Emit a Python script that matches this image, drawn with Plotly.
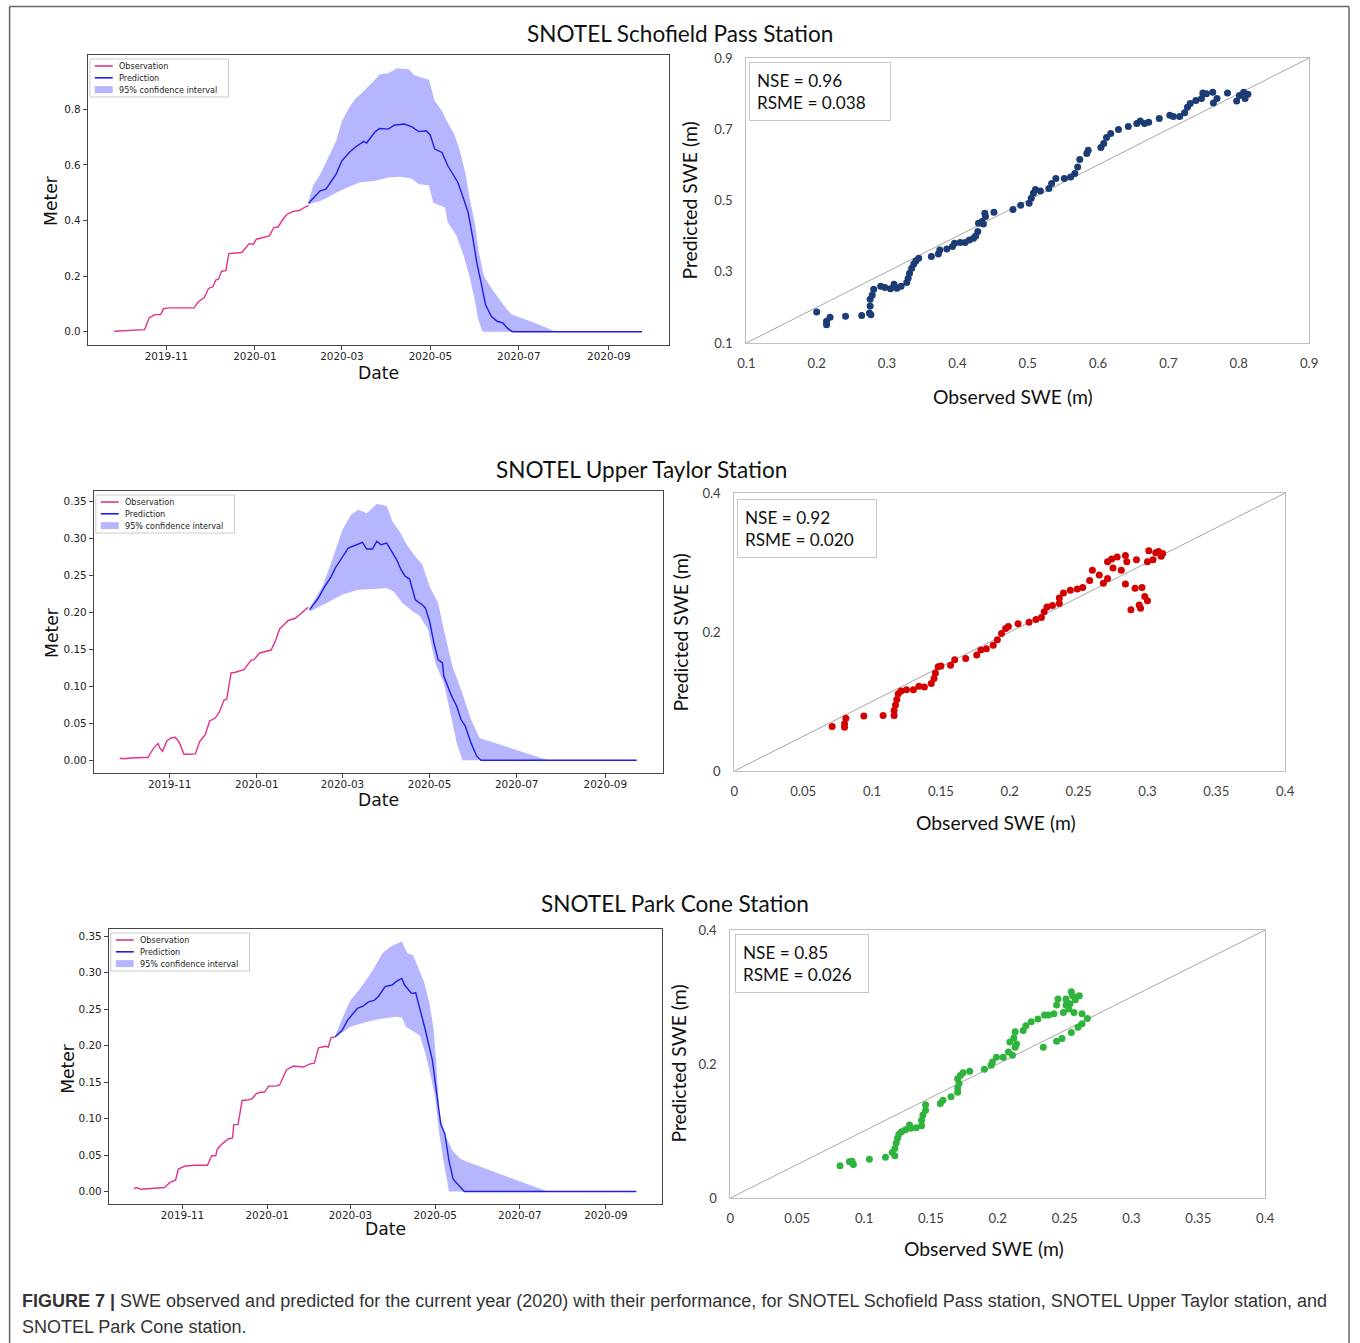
import pandas as pd
import plotly.graph_objects as go

W, H = 1360, 1343
# The captured picture shows the page inset by 8px and scaled to (W-16)x(H-16);
# positions below are given in picture pixels and mapped back to page/paper coords.
INSET = 8
SX = (W - 2 * INSET) / W
SY = (H - 2 * INSET) / H
FS = 1.0 / SX  # font/length compensation

# ---------------- Station 1: Schofield Pass ----------------
sch_obs_dates = ["2019-09-26", "2019-10-17", "2019-10-20", "2019-10-24", "2019-10-28", "2019-10-30", "2019-11-03",
                 "2019-11-20", "2019-11-23", "2019-11-27", "2019-11-30", "2019-12-03", "2019-12-05", "2019-12-07",
                 "2019-12-09", "2019-12-12", "2019-12-14", "2019-12-17", "2019-12-23", "2019-12-28", "2019-12-31",
                 "2020-01-02", "2020-01-11", "2020-01-14", "2020-01-17", "2020-01-20", "2020-01-23", "2020-01-27",
                 "2020-02-01", "2020-02-04", "2020-02-07"]
sch_obs_vals = [0.002, 0.008, 0.05, 0.062, 0.062, 0.083, 0.086, 0.086, 0.108, 0.122, 0.156, 0.162, 0.186, 0.19,
                0.218, 0.22, 0.281, 0.282, 0.285, 0.317, 0.315, 0.333, 0.345, 0.375, 0.377, 0.402, 0.422, 0.432,
                0.437, 0.447, 0.455]
sch_pred_dates = ["2020-02-07", "2020-02-11", "2020-02-15", "2020-02-19", "2020-02-23", "2020-02-26", "2020-03-01",
                  "2020-03-06", "2020-03-10", "2020-03-16", "2020-03-18", "2020-03-21", "2020-03-24", "2020-03-27",
                  "2020-04-02", "2020-04-06", "2020-04-13", "2020-04-18", "2020-04-23", "2020-04-28", "2020-05-01",
                  "2020-05-04", "2020-05-09", "2020-05-13", "2020-05-17", "2020-05-20", "2020-05-24", "2020-05-27",
                  "2020-05-30", "2020-06-02", "2020-06-05", "2020-06-08", "2020-06-12", "2020-06-16", "2020-06-20",
                  "2020-06-23", "2020-06-26", "2020-06-27", "2020-09-24"]
sch_pred_vals = [0.462, 0.483, 0.507, 0.513, 0.543, 0.567, 0.615, 0.645, 0.663, 0.685, 0.679, 0.699, 0.72, 0.731,
                 0.729, 0.743, 0.747, 0.738, 0.72, 0.723, 0.707, 0.657, 0.645, 0.597, 0.563, 0.537, 0.477, 0.43,
                 0.345, 0.249, 0.176, 0.098, 0.056, 0.038, 0.032, 0.014, 0.002, 0.0, 0.0]
sch_up_dates = ["2020-02-07", "2020-02-10", "2020-02-15", "2020-02-20", "2020-02-26", "2020-03-01", "2020-03-06",
                "2020-03-10", "2020-03-16", "2020-03-23", "2020-03-27", "2020-04-02", "2020-04-08", "2020-04-16",
                "2020-04-20", "2020-04-27", "2020-04-30", "2020-05-04", "2020-05-09", "2020-05-13", "2020-05-17",
                "2020-05-21", "2020-05-25", "2020-05-28", "2020-06-01", "2020-06-03", "2020-06-07", "2020-06-12",
                "2020-06-17", "2020-06-22", "2020-06-26", "2020-07-09", "2020-07-23", "2020-07-26", "2020-09-24"]
sch_up_vals = [0.47, 0.524, 0.567, 0.62, 0.686, 0.758, 0.806, 0.836, 0.866, 0.902, 0.926, 0.93, 0.948, 0.944,
               0.923, 0.911, 0.906, 0.83, 0.794, 0.752, 0.716, 0.657, 0.573, 0.483, 0.38, 0.296, 0.2, 0.158,
               0.122, 0.086, 0.062, 0.038, 0.008, 0.0, 0.0]
sch_lo_dates = ["2020-02-07", "2020-02-15", "2020-02-20", "2020-02-26", "2020-03-02", "2020-03-13", "2020-03-24",
                "2020-04-02", "2020-04-10", "2020-04-18", "2020-04-23", "2020-04-30", "2020-05-03", "2020-05-11",
                "2020-05-13", "2020-05-19", "2020-05-24", "2020-05-28", "2020-06-01", "2020-06-03", "2020-06-06",
                "2020-09-24"]
sch_lo_vals = [0.459, 0.47, 0.483, 0.5, 0.513, 0.537, 0.543, 0.555, 0.558, 0.551, 0.531, 0.527, 0.464, 0.447,
               0.393, 0.345, 0.273, 0.2, 0.104, 0.044, 0.0, 0.0]

sch_sc_obs = [0.200, 0.214, 0.214, 0.219, 0.241, 0.264, 0.275, 0.276, 0.276, 0.277, 0.279, 0.281, 0.291, 0.297,
              0.305, 0.310, 0.314, 0.320, 0.328, 0.330, 0.332, 0.335, 0.338, 0.341, 0.345, 0.363, 0.373, 0.375,
              0.385, 0.393, 0.396, 0.404, 0.411, 0.417, 0.423, 0.426, 0.429, 0.430, 0.435, 0.437, 0.440, 0.439,
              0.452, 0.479, 0.490, 0.502, 0.505, 0.508, 0.511, 0.518, 0.530, 0.534, 0.540, 0.552, 0.561, 0.567,
              0.571, 0.574, 0.584, 0.586, 0.604, 0.608, 0.612, 0.618, 0.629, 0.643, 0.655, 0.660, 0.666, 0.672,
              0.687, 0.702, 0.707, 0.716, 0.723, 0.727, 0.731, 0.739, 0.747, 0.749, 0.754, 0.763, 0.764, 0.769,
              0.784, 0.797, 0.801, 0.807, 0.813, 0.809]
sch_sc_pred = [0.187, 0.161, 0.151, 0.172, 0.175, 0.177, 0.184, 0.204, 0.223, 0.179, 0.235, 0.251, 0.259, 0.256,
               0.252, 0.265, 0.254, 0.259, 0.270, 0.282, 0.296, 0.310, 0.322, 0.330, 0.338, 0.343, 0.350, 0.361,
               0.364, 0.371, 0.380, 0.382, 0.382, 0.389, 0.394, 0.400, 0.413, 0.436, 0.441, 0.434, 0.455, 0.464,
               0.467, 0.475, 0.487, 0.492, 0.506, 0.520, 0.531, 0.527, 0.534, 0.548, 0.562, 0.562, 0.566, 0.576,
               0.594, 0.615, 0.632, 0.641, 0.649, 0.660, 0.677, 0.688, 0.699, 0.708, 0.716, 0.723, 0.716, 0.720,
               0.730, 0.739, 0.736, 0.736, 0.746, 0.762, 0.772, 0.781, 0.786, 0.802, 0.800, 0.804, 0.774, 0.786,
               0.802, 0.779, 0.795, 0.804, 0.798, 0.786]

# ---------------- Station 2: Upper Taylor ----------------
ut_obs_dates = ["2019-09-27", "2019-09-30", "2019-10-05", "2019-10-17", "2019-10-18", "2019-10-21", "2019-10-24",
                "2019-10-25", "2019-10-27", "2019-10-30", "2019-11-02", "2019-11-05", "2019-11-08", "2019-11-11",
                "2019-11-15", "2019-11-19", "2019-11-22", "2019-11-26", "2019-11-29", "2019-12-03", "2019-12-06",
                "2019-12-09", "2019-12-11", "2019-12-14", "2019-12-17", "2019-12-23", "2019-12-28", "2019-12-30",
                "2020-01-03", "2020-01-11", "2020-01-14", "2020-01-17", "2020-01-20", "2020-01-23", "2020-01-28",
                "2020-02-01", "2020-02-06"]
ut_obs_vals = [0.0027, 0.002, 0.003, 0.004, 0.0077, 0.017, 0.0225, 0.017, 0.012, 0.026, 0.030, 0.031, 0.023, 0.008,
               0.008, 0.0085, 0.025, 0.035, 0.053, 0.057, 0.066, 0.081, 0.083, 0.118, 0.119, 0.1225, 0.135, 0.136,
               0.145, 0.149, 0.161, 0.1775, 0.1833, 0.189, 0.192, 0.199, 0.207]
ut_pred_dates = ["2020-02-07", "2020-02-13", "2020-02-17", "2020-02-22", "2020-02-25", "2020-03-01", "2020-03-05",
                 "2020-03-11", "2020-03-15", "2020-03-18", "2020-03-22", "2020-03-25", "2020-03-28", "2020-04-01",
                 "2020-04-04", "2020-04-08", "2020-04-11", "2020-04-14", "2020-04-17", "2020-04-21", "2020-04-26",
                 "2020-04-28", "2020-05-01", "2020-05-04", "2020-05-07", "2020-05-10", "2020-05-11", "2020-05-16",
                 "2020-05-20", "2020-05-23", "2020-05-26", "2020-05-30", "2020-06-03", "2020-06-06", "2020-09-23"]
ut_pred_vals = [0.2036, 0.219, 0.233, 0.248, 0.26, 0.2757, 0.287, 0.2914, 0.2946, 0.2856, 0.2856, 0.296, 0.2914,
                0.2937, 0.2847, 0.271, 0.2577, 0.2486, 0.245, 0.217, 0.21, 0.206, 0.188, 0.1586, 0.136, 0.1315,
                0.1135, 0.0887, 0.073, 0.055, 0.046, 0.0234, 0.0054, 0.0, 0.0]
ut_up_dates = ["2020-02-07", "2020-02-16", "2020-02-22", "2020-03-01", "2020-03-07", "2020-03-12", "2020-03-18",
               "2020-03-25", "2020-04-01", "2020-04-05", "2020-04-10", "2020-04-15", "2020-04-21", "2020-04-26",
               "2020-05-01", "2020-05-07", "2020-05-11", "2020-05-17", "2020-05-23", "2020-05-30", "2020-06-05",
               "2020-07-23", "2020-09-23"]
ut_up_vals = [0.206, 0.235, 0.2667, 0.3117, 0.332, 0.3387, 0.334, 0.3468, 0.344, 0.323, 0.3095, 0.2914, 0.2757,
              0.2644, 0.235, 0.2126, 0.1766, 0.127, 0.0955, 0.055, 0.030, 0.0, 0.0]
ut_lo_dates = ["2020-02-07", "2020-02-19", "2020-03-01", "2020-03-12", "2020-03-23", "2020-04-01", "2020-04-06",
               "2020-04-12", "2020-04-19", "2020-04-24", "2020-04-30", "2020-05-05", "2020-05-11", "2020-05-16",
               "2020-05-20", "2020-05-24", "2020-09-23"]
ut_lo_vals = [0.2013, 0.2126, 0.224, 0.2306, 0.2315, 0.2329, 0.228, 0.2126, 0.2014, 0.1955, 0.1766, 0.1315, 0.1045,
              0.0595, 0.0234, 0.0, 0.0]

ut_sc_obs = [0.071, 0.080, 0.080, 0.081, 0.094, 0.108, 0.116, 0.116, 0.117, 0.118, 0.119, 0.121, 0.125, 0.130,
             0.134, 0.138, 0.143, 0.145, 0.146, 0.148, 0.150, 0.157, 0.160, 0.168, 0.176, 0.179, 0.183, 0.188,
             0.191, 0.194, 0.197, 0.199, 0.206, 0.214, 0.219, 0.223, 0.225, 0.227, 0.231, 0.236, 0.236, 0.239,
             0.244, 0.249, 0.253, 0.258, 0.260, 0.265, 0.268, 0.271, 0.271, 0.274, 0.275, 0.278, 0.281, 0.284,
             0.284, 0.285, 0.288, 0.291, 0.292, 0.294, 0.295, 0.296, 0.298, 0.300, 0.300, 0.301, 0.304, 0.306,
             0.308, 0.310, 0.311]
ut_sc_pred = [0.064, 0.068, 0.063, 0.076, 0.079, 0.080, 0.080, 0.087, 0.095, 0.103, 0.111, 0.115, 0.117, 0.117,
              0.122, 0.121, 0.126, 0.133, 0.141, 0.150, 0.151, 0.152, 0.160, 0.162, 0.167, 0.174, 0.176, 0.181,
              0.189, 0.198, 0.205, 0.208, 0.212, 0.214, 0.218, 0.221, 0.229, 0.236, 0.238, 0.241, 0.249, 0.256,
              0.260, 0.262, 0.264, 0.274, 0.289, 0.282, 0.270, 0.277, 0.301, 0.305, 0.292, 0.308, 0.289, 0.310,
              0.269, 0.301, 0.232, 0.263, 0.304, 0.239, 0.234, 0.264, 0.251, 0.245, 0.301, 0.317, 0.304, 0.314,
              0.316, 0.309, 0.313]

# ---------------- Station 3: Park Cone ----------------
pc_obs_dates = ["2019-09-27", "2019-09-29", "2019-10-02", "2019-10-09", "2019-10-19", "2019-10-23", "2019-10-27",
                "2019-10-29", "2019-11-03", "2019-11-10", "2019-11-19", "2019-11-22", "2019-11-25", "2019-11-26",
                "2019-11-30", "2019-12-04", "2019-12-07", "2019-12-08", "2019-12-11", "2019-12-14", "2019-12-17",
                "2019-12-21", "2019-12-24", "2019-12-27", "2019-12-30", "2020-01-02", "2020-01-07", "2020-01-10",
                "2020-01-13", "2020-01-15", "2020-01-20", "2020-01-27", "2020-02-01", "2020-02-04", "2020-02-07",
                "2020-02-12", "2020-02-14", "2020-02-16", "2020-02-19"]
pc_obs_vals = [0.004, 0.0055, 0.003, 0.0037, 0.0055, 0.0124, 0.0156, 0.0307, 0.0349, 0.036, 0.036, 0.049, 0.049,
               0.058, 0.066, 0.072, 0.0734, 0.0917, 0.0917, 0.125, 0.125, 0.127, 0.134, 0.136, 0.136, 0.1445,
               0.1445, 0.146, 0.159, 0.167, 0.172, 0.1706, 0.175, 0.176, 0.197, 0.199, 0.198, 0.211, 0.212]
pc_pred_dates = ["2020-02-19", "2020-02-24", "2020-02-28", "2020-03-02", "2020-03-06", "2020-03-10", "2020-03-14",
                 "2020-03-18", "2020-03-21", "2020-03-26", "2020-03-31", "2020-04-03", "2020-04-07", "2020-04-09",
                 "2020-04-11", "2020-04-14", "2020-04-17", "2020-04-20", "2020-04-24", "2020-04-29", "2020-05-02",
                 "2020-05-05", "2020-05-08", "2020-05-11", "2020-05-14", "2020-05-18", "2020-05-22", "2020-09-23"]
pc_pred_vals = [0.212, 0.221, 0.235, 0.242, 0.251, 0.254, 0.26, 0.262, 0.267, 0.281, 0.283, 0.288, 0.292, 0.283,
                0.278, 0.2716, 0.2725, 0.251, 0.221, 0.18, 0.134, 0.0927, 0.079, 0.042, 0.017, 0.0078, 0.0, 0.0]
pc_up_dates = ["2020-02-19", "2020-02-24", "2020-03-01", "2020-03-07", "2020-03-13", "2020-03-18", "2020-03-24",
               "2020-03-30", "2020-04-07", "2020-04-11", "2020-04-15", "2020-04-19", "2020-04-23", "2020-04-27",
               "2020-04-30", "2020-05-02", "2020-05-04", "2020-05-07", "2020-05-10", "2020-05-14", "2020-05-19",
               "2020-05-25", "2020-07-21", "2020-09-23"]
pc_up_vals = [0.2128, 0.237, 0.262, 0.276, 0.292, 0.306, 0.3266, 0.3358, 0.3427, 0.3266, 0.3243, 0.306, 0.2876,
              0.2578, 0.221, 0.17, 0.11, 0.085, 0.07, 0.055, 0.045, 0.04, 0.0, 0.0]
pc_lo_dates = ["2020-02-19", "2020-03-01", "2020-03-13", "2020-03-24", "2020-04-03", "2020-04-07", "2020-04-10",
               "2020-04-14", "2020-04-20", "2020-04-24", "2020-04-28", "2020-05-01", "2020-05-04", "2020-05-07",
               "2020-05-11", "2020-09-23"]
pc_lo_vals = [0.211, 0.2257, 0.2326, 0.237, 0.2394, 0.2385, 0.2257, 0.221, 0.214, 0.189, 0.157, 0.129, 0.079,
              0.042, 0.0, 0.0]

pc_sc_obs = [0.082, 0.089, 0.091, 0.092, 0.104, 0.116, 0.121, 0.123, 0.123, 0.124, 0.125, 0.126, 0.128, 0.131,
             0.135, 0.134, 0.139, 0.143, 0.143, 0.144, 0.146, 0.146, 0.157, 0.159, 0.165, 0.170, 0.170, 0.171,
             0.170, 0.172, 0.174, 0.179, 0.190, 0.195, 0.196, 0.199, 0.204, 0.208, 0.209, 0.211, 0.212, 0.213,
             0.213, 0.214, 0.219, 0.221, 0.225, 0.230, 0.234, 0.235, 0.238, 0.242, 0.244, 0.244, 0.245, 0.248,
             0.249, 0.251, 0.251, 0.253, 0.254, 0.255, 0.255, 0.256, 0.257, 0.258, 0.260, 0.261, 0.263, 0.263,
             0.267]
pc_sc_pred = [0.048, 0.054, 0.055, 0.050, 0.058, 0.061, 0.068, 0.063, 0.074, 0.082, 0.089, 0.095, 0.099, 0.102,
              0.104, 0.109, 0.105, 0.108, 0.116, 0.124, 0.131, 0.139, 0.141, 0.146, 0.151, 0.158, 0.164, 0.171,
              0.178, 0.183, 0.187, 0.189, 0.192, 0.198, 0.203, 0.210, 0.210, 0.218, 0.233, 0.213, 0.239, 0.225,
              0.248, 0.230, 0.250, 0.257, 0.263, 0.267, 0.225, 0.273, 0.273, 0.275, 0.234, 0.288, 0.297, 0.238,
              0.277, 0.288, 0.297, 0.282, 0.290, 0.247, 0.308, 0.302, 0.277, 0.296, 0.255, 0.302, 0.275, 0.260,
              0.268]

# ---------------- Text & ticks ----------------
station_titles = ["SNOTEL Schofield Pass Station", "SNOTEL Upper Taylor Station", "SNOTEL Park Cone Station"]
nse_texts = ["NSE = 0.96<br>RSME = 0.038", "NSE = 0.92<br>RSME = 0.020", "NSE = 0.85<br>RSME = 0.026"]
legend_labels = ["Observation", "Prediction", "95% confidence interval"]
ts_yticks_1 = [0.0, 0.2, 0.4, 0.6, 0.8]
ts_yticks_23 = [0.0, 0.05, 0.10, 0.15, 0.20, 0.25, 0.30, 0.35]
sc1_xticks = [0.1, 0.2, 0.3, 0.4, 0.5, 0.6, 0.7, 0.8, 0.9]
sc1_xticktext = ["0.1", "0.2", "0.3", "0.4", "0.5", "0.6", "0.7", "0.8", "0.9"]
sc1_yticks = [0.1, 0.3, 0.5, 0.7, 0.9]
sc1_yticktext = ["0.1", "0.3", "0.5", "0.7", "0.9"]
sc23_xticks = [0, 0.05, 0.1, 0.15, 0.2, 0.25, 0.3, 0.35, 0.4]
sc23_xticktext = ["0", "0.05", "0.1", "0.15", "0.2", "0.25", "0.3", "0.35", "0.4"]
sc23_yticks = [0, 0.2, 0.4]
sc23_yticktext = ["0", "0.2", "0.4"]
caption_line1 = ("<b>FIGURE 7 |</b> SWE observed and predicted for the current year (2020) with their performance, "
                 "for SNOTEL Schofield Pass station, SNOTEL Upper Taylor station, and")
caption_line2 = "SNOTEL Park Cone station."

# ---------------- Styling ----------------
OBS_COLOR = "#e3328e"
PRED_COLOR = "#1f1fe8"
CI_FILL = "rgba(40,40,255,0.34)"
SC_COLORS = ["#1b3c75", "#d40000", "#2eb33c"]
TS_FONT = "DejaVu Sans"
XL_FONT = "Lato"

# picture-pixel boxes (left, top, right, bottom)
ts_boxes = [(87, 55, 669, 345), (93, 491, 663, 773), (108, 929, 662, 1204)]
sc_boxes = [(747, 58, 1311, 343), (735, 493, 1287, 771), (731, 930, 1267, 1198)]
title_pos = [(681, 33), (642, 470), (675, 904)]
meter_pos = [(50, 200), (51, 632), (67, 1068)]
date_pos = [(378, 373), (378, 800), (385, 1229)]
pred_lbl_pos = [(690, 200), (681, 632), (678, 1064)]
obs_lbl_pos = [(1014, 396), (997, 822), (985, 1248)]
nse_box = [(750, 62, 140), (738, 499, 138), (736, 934, 132)]


def fx(px):
    return (px - INSET) / (W - 2 * INSET)


def fy(py):
    return 1 - (py - INSET) / (H - 2 * INSET)


def fs(size):
    return round(size * FS, 2)


stations = [
    dict(od=sch_obs_dates, ov=sch_obs_vals, pd_=sch_pred_dates, pv=sch_pred_vals,
         ud=sch_up_dates, uv=sch_up_vals, ld=sch_lo_dates, lv=sch_lo_vals,
         sx=sch_sc_obs, sy=sch_sc_pred, yt=ts_yticks_1, yfmt=".1f",
         scx=sc1_xticks, scxt=sc1_xticktext, scy=sc1_yticks, scyt=sc1_yticktext, scr=[0.1, 0.9]),
    dict(od=ut_obs_dates, ov=ut_obs_vals, pd_=ut_pred_dates, pv=ut_pred_vals,
         ud=ut_up_dates, uv=ut_up_vals, ld=ut_lo_dates, lv=ut_lo_vals,
         sx=ut_sc_obs, sy=ut_sc_pred, yt=ts_yticks_23, yfmt=".2f",
         scx=sc23_xticks, scxt=sc23_xticktext, scy=sc23_yticks, scyt=sc23_yticktext, scr=[0, 0.4]),
    dict(od=pc_obs_dates, ov=pc_obs_vals, pd_=pc_pred_dates, pv=pc_pred_vals,
         ud=pc_up_dates, uv=pc_up_vals, ld=pc_lo_dates, lv=pc_lo_vals,
         sx=pc_sc_obs, sy=pc_sc_pred, yt=ts_yticks_23, yfmt=".2f",
         scx=sc23_xticks, scxt=sc23_xticktext, scy=sc23_yticks, scyt=sc23_yticktext, scr=[0, 0.4]),
]

fig = go.Figure()
layout = dict(width=W, height=H, margin=dict(l=0, r=0, t=0, b=0, pad=0), plot_bgcolor="white",
              paper_bgcolor="white", showlegend=False, autosize=False)
annotations = []
shapes = []

for i, st in enumerate(stations):
    ts_n = 2 * i + 1
    sc_n = 2 * i + 2
    tsx, tsy = f"x{ts_n}", f"y{ts_n}"
    scx, scy = f"x{sc_n}", f"y{sc_n}"

    # --- time series ---
    poly_x = list(st["ud"]) + list(reversed(st["ld"]))
    poly_y = list(st["uv"]) + list(reversed(st["lv"]))
    fig.add_trace(go.Scatter(x=poly_x, y=poly_y, fill="toself", fillcolor=CI_FILL, mode="none",
                             name=legend_labels[2], xaxis=tsx, yaxis=tsy, hoverinfo="skip"))
    fig.add_trace(go.Scatter(x=st["od"], y=st["ov"], mode="lines", line=dict(color=OBS_COLOR, width=1.4),
                             name=legend_labels[0], xaxis=tsx, yaxis=tsy))
    fig.add_trace(go.Scatter(x=st["pd_"], y=st["pv"], mode="lines", line=dict(color=PRED_COLOR, width=1.4),
                             name=legend_labels[1], xaxis=tsx, yaxis=tsy))

    d0 = pd.Timestamp(st["od"][0])
    d1 = pd.Timestamp(st["pd_"][-1])
    pad = (d1 - d0) * 0.05
    ymax = max(st["uv"])
    l, t, r, b = ts_boxes[i]
    axis_common = dict(showline=True, linecolor="#444", linewidth=1, mirror=True, showgrid=False,
                       zeroline=False, ticks="outside", ticklen=4, tickcolor="#444",
                       tickfont=dict(family=TS_FONT, size=fs(10.3), color="#222"))
    layout[f"xaxis{ts_n}"] = dict(domain=[fx(l), fx(r)], anchor=tsy, type="date",
                                  range=[d0 - pad, d1 + pad], tick0="2019-11-01", dtick="M2",
                                  tickformat="%Y-%m", ticklabelstandoff=-3, **axis_common)
    layout[f"yaxis{ts_n}"] = dict(domain=[fy(b), fy(t)], anchor=tsx, range=[-0.05 * ymax, 1.05 * ymax],
                                  tickvals=st["yt"], tickformat=st["yfmt"], **axis_common)

    # legend box drawn in paper space
    lx, ly = l + 2, t + 4
    shapes.append(dict(type="rect", xref="paper", yref="paper", x0=fx(lx), x1=fx(lx + 139), y0=fy(ly + 38),
                       y1=fy(ly), line=dict(color="#cccccc", width=1), fillcolor="rgba(255,255,255,0.85)",
                       layer="above"))
    for k, (lbl, col) in enumerate(zip(legend_labels, [OBS_COLOR, PRED_COLOR, CI_FILL])):
        yy = ly + 7 + 11.8 * k
        if k < 2:
            shapes.append(dict(type="line", xref="paper", yref="paper", x0=fx(lx + 5), x1=fx(lx + 23),
                               y0=fy(yy), y1=fy(yy), line=dict(color=col, width=1.6), layer="above"))
        else:
            shapes.append(dict(type="rect", xref="paper", yref="paper", x0=fx(lx + 5), x1=fx(lx + 23),
                               y0=fy(yy + 3.5), y1=fy(yy - 3.5), line=dict(width=0), fillcolor=col,
                               layer="above"))
        annotations.append(dict(text=lbl, x=fx(lx + 27), y=fy(yy), xref="paper", yref="paper",
                                xanchor="left", yanchor="middle", showarrow=False,
                                font=dict(family=TS_FONT, size=fs(8), color="#222")))

    annotations.append(dict(text="Meter", x=fx(meter_pos[i][0]), y=fy(meter_pos[i][1]), xref="paper",
                            yref="paper", textangle=-90, showarrow=False, xanchor="center", yanchor="middle",
                            font=dict(family=TS_FONT, size=fs(17), color="#111")))
    annotations.append(dict(text="Date", x=fx(date_pos[i][0]), y=fy(date_pos[i][1]), xref="paper",
                            yref="paper", showarrow=False, xanchor="center", yanchor="middle",
                            font=dict(family=TS_FONT, size=fs(17), color="#111")))

    # --- scatter ---
    lo, hi = st["scr"]
    fig.add_trace(go.Scatter(x=[lo, hi], y=[lo, hi], mode="lines", line=dict(color="#a6a6a6", width=1),
                             xaxis=scx, yaxis=scy, hoverinfo="skip"))
    fig.add_trace(go.Scatter(x=st["sx"], y=st["sy"], mode="markers",
                             marker=dict(color=SC_COLORS[i], size=7, line=dict(width=0)),
                             xaxis=scx, yaxis=scy))
    l, t, r, b = sc_boxes[i]
    sc_common = dict(showline=True, linecolor="#bfbfbf", linewidth=1, mirror=True, showgrid=False,
                     zeroline=False, ticks="", tickfont=dict(family=XL_FONT, size=fs(13), color="#404040"))
    layout[f"xaxis{sc_n}"] = dict(domain=[fx(l), fx(r)], anchor=scy, range=[lo, hi], tickvals=st["scx"],
                                  ticktext=st["scxt"], ticklabelstandoff=8, **sc_common)
    layout[f"yaxis{sc_n}"] = dict(domain=[fy(b), fy(t)], anchor=scx, range=[lo, hi], tickvals=st["scy"],
                                  ticktext=st["scyt"], ticklabelstandoff=10, **sc_common)

    annotations.append(dict(text="Predicted SWE (m)", x=fx(pred_lbl_pos[i][0]), y=fy(pred_lbl_pos[i][1]),
                            xref="paper", yref="paper", textangle=-90, showarrow=False,
                            xanchor="center", yanchor="middle",
                            font=dict(family=XL_FONT, size=fs(19.1), color="#111")))
    annotations.append(dict(text="Observed SWE (m)", x=fx(obs_lbl_pos[i][0]), y=fy(obs_lbl_pos[i][1]),
                            xref="paper", yref="paper", showarrow=False,
                            xanchor="center", yanchor="middle",
                            font=dict(family=XL_FONT, size=fs(19.1), color="#111")))
    bx, by, bw = nse_box[i]
    annotations.append(dict(text=nse_texts[i], x=fx(bx), y=fy(by), xref="paper", yref="paper",
                            xanchor="left", yanchor="top", align="left", showarrow=False,
                            width=round(bw * FS) - 16, borderpad=7, bordercolor="#c8c8c8", borderwidth=1,
                            bgcolor="white", font=dict(family=XL_FONT, size=fs(17), color="#111")))

    annotations.append(dict(text=station_titles[i], x=fx(title_pos[i][0]), y=fy(title_pos[i][1]),
                            xref="paper", yref="paper", showarrow=False, xanchor="center", yanchor="middle",
                            font=dict(family=XL_FONT, size=fs(22.3), color="#111")))

# caption
annotations.append(dict(text=caption_line1, x=fx(19), y=fy(1301), xref="paper", yref="paper", showarrow=False,
                        xanchor="left", yanchor="middle",
                        font=dict(family="Liberation Sans", size=fs(17.8), color="#333")))
annotations.append(dict(text=caption_line2, x=fx(19), y=fy(1327), xref="paper", yref="paper", showarrow=False,
                        xanchor="left", yanchor="middle",
                        font=dict(family="Liberation Sans", size=fs(17.8), color="#333")))

# outer frame (left, top, right)
fl, ft, fr, fb = 8.6, 6.6, 1351, 1360
for (x0, y0, x1, y1) in [(fl, ft, fl, fb), (fl, ft, fr, ft), (fr, ft, fr, fb)]:
    shapes.append(dict(type="line", xref="paper", yref="paper", x0=fx(x0), y0=fy(y0), x1=fx(x1), y1=fy(y1),
                       line=dict(color="#666", width=1.5)))

layout["annotations"] = annotations
layout["shapes"] = shapes
fig.update_layout(**layout)
fig.write_html("out.html", config={"displayModeBar": False},
               post_script="document.body.style.margin='0';document.body.style.padding='0';"
                           "document.body.style.overflow='hidden';"
                           "document.documentElement.style.overflow='hidden';")
